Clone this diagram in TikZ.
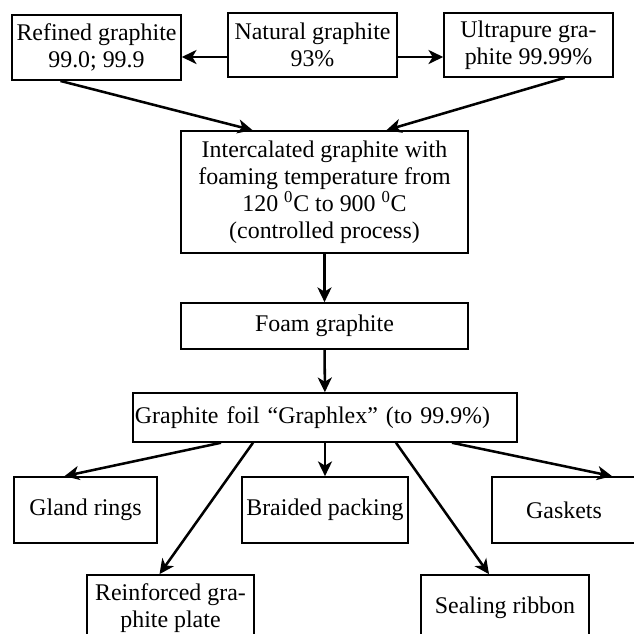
\documentclass[tikz,border=0pt]{standalone}
\usepackage{fontspec}
\setmainfont{Liberation Serif}
\usepackage{tikz}
\usetikzlibrary{arrows.meta,positioning,calc}

\begin{document}
\begin{tikzpicture}[
    x=0.025cm, y=-0.025cm,
    box/.style={rectangle, draw, line width=1.2pt, inner sep=1pt, align=center, font=\fontsize{17}{19.2}\selectfont},
    edge/.style={-{Stealth[length=10.5pt,width=10pt,inset=3pt]}, line width=1.8pt}
]
    \clip (0,0) rectangle (634,634);

    % sources
    \node[box, minimum width=4.22cm, minimum height=1.63cm] (refined) at (96.5,47.5) {Refined graphite\\99.0; 99.9};
    \node[box, minimum width=4.22cm, minimum height=1.6cm] (natural) at (312.5,45) {Natural graphite\\93\%};
    \node[box, minimum width=4.22cm, minimum height=1.6cm] (ultra) at (528.5,45) {Ultrapure gra-\\phite 99.99\%};

    % main chain
    \node[box, minimum width=7.18cm, minimum height=3.05cm] (inter) at (324.5,192) {Intercalated graphite with\\foaming temperature from\\120 \textsuperscript{0}C to 900 \textsuperscript{0}C\\(controlled process)};
    \node[box, minimum width=7.18cm, minimum height=1.15cm] (foam) at (324.5,326) {Foam graphite};
    \node[box, text width=9.5cm, inner xsep=0.05cm, align=left, minimum height=1.22cm] (foil) at (325,417.5) {Graphite foil “Graphlex” (to 99.9\%)};

    % products
    \node[box, minimum width=3.58cm, minimum height=1.65cm] (gland) at (85.5,510) {Gland rings};
    \node[box, minimum width=4.15cm, minimum height=1.65cm] (braided) at (325,510) {Braided packing};
    \node[box, minimum width=3.6cm, minimum height=1.65cm] (gaskets) at (564,510) {Gaskets};
    \node[box, minimum width=4.18cm, minimum height=1.65cm] (reinforced) at (170.5,608) {Reinforced gra-\\phite plate};
    \node[box, minimum width=4.2cm, minimum height=1.65cm] (sealing) at (505,608) {Sealing ribbon};

    \draw[edge] ([yshift=-0.3cm]natural.west) -- ([yshift=-0.3cm]natural.west -| refined.east);
    \draw[edge] ([yshift=-0.3cm]natural.east) -- ([yshift=-0.3cm]natural.east -| ultra.west);
    \draw[edge] ($(refined.south)+(-36,0)$) -- ($(inter.north)+(-72,0)$);
    \draw[edge] ($(ultra.south)+(36,0)$) -- ($(inter.north)+(62,0)$);
    \draw[edge] (inter) -- (foam);
    \draw[edge] (foam) -- (foil);
    \draw[edge] ($(foil.south)+(-104,0)$) -- ($(gland.north)+(-21,0)$);
    \draw[edge] ($(foil.south)+(-72,0)$) -- ($(reinforced.north)+(-11,0)$);
    \draw[edge] (foil) -- (braided);
    \draw[edge] ($(foil.south)+(71,0)$) -- ($(sealing.north)+(-16,0)$);
    \draw[edge] ($(foil.south)+(127,0)$) -- ($(gaskets.north)+(48,0)$);
\end{tikzpicture}
\end{document}
